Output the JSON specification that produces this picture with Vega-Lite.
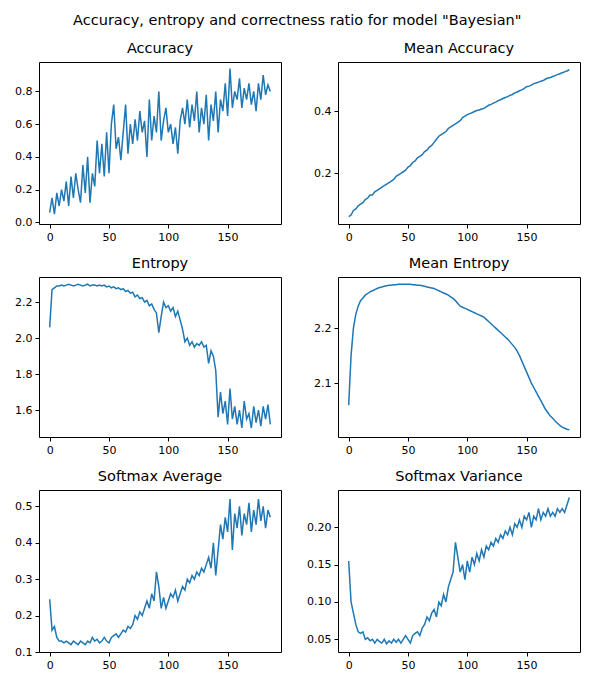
{
  "$schema": "https://vega.github.io/schema/vega-lite/v6.json",
  "padding": {"left": 14, "top": 12, "right": 12, "bottom": 4},
  "title": {"text": "Accuracy, entropy and correctness ratio for model \"Bayesian\"", "fontSize": 14.5, "fontWeight": "normal", "font": "DejaVu Sans", "anchor": "middle", "offset": 12},
  "config": {
    "font": "DejaVu Sans",
    "view": {"stroke": "black", "strokeWidth": 1},
    "axis": {"grid": false, "domainColor": "black", "tickColor": "black", "labelColor": "black", "labelFontSize": 11, "tickSize": 4, "labelPadding": 3, "domain": false},
    "title": {"fontSize": 14.5, "fontWeight": "normal", "offset": 6},
    "line": {"color": "#1f77b4", "strokeWidth": 1.5}
  },
  "columns": 2,
  "spacing": {"row": 12, "column": 24},
  "data": {"values": [
    {"x":0,"a":0.06,"ma":0.06,"e":2.06,"me":2.06,"s":0.245,"v":0.155},
    {"x":2,"a":0.15,"ma":0.065,"e":2.27,"me":2.15,"s":0.16,"v":0.10},
    {"x":4,"a":0.05,"ma":0.08,"e":2.28,"me":2.2,"s":0.17,"v":0.085},
    {"x":6,"a":0.18,"ma":0.085,"e":2.29,"me":2.225,"s":0.14,"v":0.07},
    {"x":8,"a":0.10,"ma":0.095,"e":2.29,"me":2.24,"s":0.13,"v":0.06},
    {"x":10,"a":0.20,"ma":0.10,"e":2.295,"me":2.25,"s":0.13,"v":0.058},
    {"x":12,"a":0.13,"ma":0.105,"e":2.29,"me":2.255,"s":0.125,"v":0.06},
    {"x":14,"a":0.25,"ma":0.115,"e":2.295,"me":2.26,"s":0.13,"v":0.05},
    {"x":16,"a":0.10,"ma":0.12,"e":2.3,"me":2.263,"s":0.125,"v":0.052},
    {"x":18,"a":0.28,"ma":0.13,"e":2.295,"me":2.266,"s":0.12,"v":0.048},
    {"x":20,"a":0.15,"ma":0.13,"e":2.29,"me":2.268,"s":0.13,"v":0.05},
    {"x":22,"a":0.30,"ma":0.14,"e":2.295,"me":2.27,"s":0.125,"v":0.045},
    {"x":24,"a":0.20,"ma":0.145,"e":2.3,"me":2.272,"s":0.12,"v":0.05},
    {"x":26,"a":0.12,"ma":0.15,"e":2.295,"me":2.274,"s":0.13,"v":0.047},
    {"x":28,"a":0.35,"ma":0.155,"e":2.29,"me":2.275,"s":0.125,"v":0.045},
    {"x":30,"a":0.18,"ma":0.16,"e":2.295,"me":2.276,"s":0.12,"v":0.05},
    {"x":32,"a":0.40,"ma":0.165,"e":2.3,"me":2.277,"s":0.13,"v":0.044},
    {"x":34,"a":0.12,"ma":0.17,"e":2.29,"me":2.278,"s":0.125,"v":0.048},
    {"x":36,"a":0.30,"ma":0.175,"e":2.295,"me":2.278,"s":0.14,"v":0.045},
    {"x":38,"a":0.22,"ma":0.18,"e":2.295,"me":2.279,"s":0.13,"v":0.05},
    {"x":40,"a":0.50,"ma":0.19,"e":2.29,"me":2.279,"s":0.135,"v":0.046},
    {"x":42,"a":0.30,"ma":0.195,"e":2.295,"me":2.28,"s":0.125,"v":0.05},
    {"x":44,"a":0.48,"ma":0.20,"e":2.29,"me":2.28,"s":0.13,"v":0.045},
    {"x":46,"a":0.28,"ma":0.205,"e":2.295,"me":2.28,"s":0.14,"v":0.05},
    {"x":48,"a":0.55,"ma":0.21,"e":2.285,"me":2.28,"s":0.13,"v":0.055},
    {"x":50,"a":0.30,"ma":0.22,"e":2.29,"me":2.28,"s":0.125,"v":0.05},
    {"x":52,"a":0.60,"ma":0.225,"e":2.28,"me":2.28,"s":0.14,"v":0.045},
    {"x":54,"a":0.72,"ma":0.235,"e":2.285,"me":2.279,"s":0.145,"v":0.055},
    {"x":56,"a":0.45,"ma":0.24,"e":2.275,"me":2.279,"s":0.15,"v":0.058},
    {"x":58,"a":0.52,"ma":0.25,"e":2.28,"me":2.278,"s":0.14,"v":0.06},
    {"x":60,"a":0.38,"ma":0.255,"e":2.27,"me":2.278,"s":0.15,"v":0.055},
    {"x":62,"a":0.55,"ma":0.26,"e":2.275,"me":2.277,"s":0.16,"v":0.065},
    {"x":64,"a":0.72,"ma":0.27,"e":2.26,"me":2.276,"s":0.155,"v":0.07},
    {"x":66,"a":0.42,"ma":0.275,"e":2.265,"me":2.275,"s":0.17,"v":0.08},
    {"x":68,"a":0.60,"ma":0.285,"e":2.25,"me":2.274,"s":0.165,"v":0.075},
    {"x":70,"a":0.48,"ma":0.29,"e":2.255,"me":2.273,"s":0.175,"v":0.085},
    {"x":72,"a":0.63,"ma":0.30,"e":2.23,"me":2.272,"s":0.20,"v":0.09},
    {"x":74,"a":0.50,"ma":0.31,"e":2.24,"me":2.27,"s":0.19,"v":0.08},
    {"x":76,"a":0.68,"ma":0.32,"e":2.22,"me":2.268,"s":0.21,"v":0.10},
    {"x":78,"a":0.55,"ma":0.325,"e":2.225,"me":2.266,"s":0.20,"v":0.095},
    {"x":80,"a":0.62,"ma":0.33,"e":2.2,"me":2.264,"s":0.22,"v":0.11},
    {"x":82,"a":0.40,"ma":0.335,"e":2.21,"me":2.262,"s":0.24,"v":0.10},
    {"x":84,"a":0.75,"ma":0.345,"e":2.18,"me":2.26,"s":0.22,"v":0.12},
    {"x":86,"a":0.50,"ma":0.35,"e":2.19,"me":2.257,"s":0.26,"v":0.13},
    {"x":88,"a":0.65,"ma":0.355,"e":2.16,"me":2.254,"s":0.24,"v":0.14},
    {"x":90,"a":0.55,"ma":0.36,"e":2.14,"me":2.25,"s":0.32,"v":0.18},
    {"x":92,"a":0.80,"ma":0.365,"e":2.03,"me":2.245,"s":0.28,"v":0.16},
    {"x":94,"a":0.50,"ma":0.37,"e":2.12,"me":2.24,"s":0.22,"v":0.14},
    {"x":96,"a":0.62,"ma":0.38,"e":2.2,"me":2.238,"s":0.25,"v":0.15},
    {"x":98,"a":0.70,"ma":0.385,"e":2.17,"me":2.236,"s":0.22,"v":0.13},
    {"x":100,"a":0.55,"ma":0.39,"e":2.18,"me":2.234,"s":0.24,"v":0.155},
    {"x":102,"a":0.60,"ma":0.393,"e":2.15,"me":2.232,"s":0.26,"v":0.14},
    {"x":104,"a":0.48,"ma":0.396,"e":2.17,"me":2.23,"s":0.25,"v":0.16},
    {"x":106,"a":0.58,"ma":0.40,"e":2.12,"me":2.228,"s":0.27,"v":0.15},
    {"x":108,"a":0.42,"ma":0.403,"e":2.15,"me":2.226,"s":0.24,"v":0.165},
    {"x":110,"a":0.62,"ma":0.405,"e":2.1,"me":2.224,"s":0.26,"v":0.155},
    {"x":112,"a":0.70,"ma":0.408,"e":2.05,"me":2.222,"s":0.28,"v":0.17},
    {"x":114,"a":0.60,"ma":0.41,"e":1.98,"me":2.22,"s":0.27,"v":0.16},
    {"x":116,"a":0.75,"ma":0.415,"e":2.0,"me":2.216,"s":0.30,"v":0.175},
    {"x":118,"a":0.58,"ma":0.42,"e":1.96,"me":2.212,"s":0.29,"v":0.17},
    {"x":120,"a":0.72,"ma":0.423,"e":1.98,"me":2.208,"s":0.31,"v":0.18},
    {"x":122,"a":0.62,"ma":0.427,"e":1.95,"me":2.204,"s":0.30,"v":0.175},
    {"x":124,"a":0.80,"ma":0.43,"e":1.97,"me":2.2,"s":0.32,"v":0.185},
    {"x":126,"a":0.55,"ma":0.435,"e":1.96,"me":2.196,"s":0.31,"v":0.18},
    {"x":128,"a":0.70,"ma":0.438,"e":1.98,"me":2.192,"s":0.33,"v":0.19},
    {"x":130,"a":0.60,"ma":0.442,"e":1.95,"me":2.188,"s":0.32,"v":0.185},
    {"x":132,"a":0.78,"ma":0.445,"e":1.96,"me":2.184,"s":0.34,"v":0.195},
    {"x":134,"a":0.50,"ma":0.448,"e":1.86,"me":2.18,"s":0.36,"v":0.19},
    {"x":136,"a":0.72,"ma":0.452,"e":1.93,"me":2.175,"s":0.33,"v":0.20},
    {"x":138,"a":0.62,"ma":0.455,"e":1.9,"me":2.17,"s":0.40,"v":0.19},
    {"x":140,"a":0.80,"ma":0.46,"e":1.82,"me":2.165,"s":0.31,"v":0.205},
    {"x":142,"a":0.55,"ma":0.463,"e":1.56,"me":2.158,"s":0.38,"v":0.20},
    {"x":144,"a":0.75,"ma":0.467,"e":1.7,"me":2.15,"s":0.45,"v":0.21},
    {"x":146,"a":0.68,"ma":0.47,"e":1.58,"me":2.14,"s":0.41,"v":0.20},
    {"x":148,"a":0.85,"ma":0.475,"e":1.65,"me":2.13,"s":0.47,"v":0.215},
    {"x":150,"a":0.65,"ma":0.48,"e":1.52,"me":2.12,"s":0.43,"v":0.21},
    {"x":152,"a":0.94,"ma":0.482,"e":1.72,"me":2.11,"s":0.52,"v":0.22},
    {"x":154,"a":0.70,"ma":0.485,"e":1.55,"me":2.1,"s":0.38,"v":0.20},
    {"x":156,"a":0.80,"ma":0.49,"e":1.62,"me":2.092,"s":0.48,"v":0.215},
    {"x":158,"a":0.75,"ma":0.492,"e":1.52,"me":2.084,"s":0.44,"v":0.21},
    {"x":160,"a":0.88,"ma":0.495,"e":1.6,"me":2.076,"s":0.50,"v":0.225},
    {"x":162,"a":0.70,"ma":0.498,"e":1.5,"me":2.068,"s":0.42,"v":0.21},
    {"x":164,"a":0.82,"ma":0.50,"e":1.65,"me":2.06,"s":0.48,"v":0.22},
    {"x":166,"a":0.75,"ma":0.505,"e":1.55,"me":2.052,"s":0.45,"v":0.215},
    {"x":168,"a":0.85,"ma":0.508,"e":1.58,"me":2.046,"s":0.51,"v":0.225},
    {"x":170,"a":0.72,"ma":0.51,"e":1.5,"me":2.04,"s":0.43,"v":0.215},
    {"x":172,"a":0.80,"ma":0.513,"e":1.62,"me":2.036,"s":0.49,"v":0.22},
    {"x":174,"a":0.68,"ma":0.516,"e":1.53,"me":2.031,"s":0.45,"v":0.215},
    {"x":176,"a":0.85,"ma":0.519,"e":1.6,"me":2.027,"s":0.52,"v":0.225},
    {"x":178,"a":0.75,"ma":0.522,"e":1.51,"me":2.023,"s":0.46,"v":0.22},
    {"x":180,"a":0.90,"ma":0.525,"e":1.62,"me":2.02,"s":0.50,"v":0.225},
    {"x":182,"a":0.78,"ma":0.528,"e":1.55,"me":2.018,"s":0.44,"v":0.22},
    {"x":184,"a":0.84,"ma":0.531,"e":1.63,"me":2.016,"s":0.49,"v":0.23},
    {"x":186,"a":0.80,"ma":0.535,"e":1.52,"me":2.015,"s":0.47,"v":0.24}
  ]},
  "concat": [
    {
      "title": "Accuracy", "width": 242, "height": 162,
      "mark": "line",
      "encoding": {
        "x": {"field": "x", "type": "quantitative", "title": null, "scale": {"domain": [-9, 195], "nice": false}, "axis": {"values": [0, 50, 100, 150]}},
        "y": {"field": "a", "type": "quantitative", "title": null, "scale": {"domain": [-0.01, 0.98], "nice": false}, "axis": {"values": [0, 0.2, 0.4, 0.6, 0.8], "format": ".1f"}}
      }
    },
    {
      "title": "Mean Accuracy", "width": 242, "height": 162,
      "mark": "line",
      "encoding": {
        "x": {"field": "x", "type": "quantitative", "title": null, "scale": {"domain": [-9, 195], "nice": false}, "axis": {"values": [0, 50, 100, 150]}},
        "y": {"field": "ma", "type": "quantitative", "title": null, "scale": {"domain": [0.036, 0.56], "nice": false}, "axis": {"values": [0.2, 0.4], "format": ".1f"}}
      }
    },
    {
      "title": "Entropy", "width": 242, "height": 160,
      "mark": "line",
      "encoding": {
        "x": {"field": "x", "type": "quantitative", "title": null, "scale": {"domain": [-9, 195], "nice": false}, "axis": {"values": [0, 50, 100, 150]}},
        "y": {"field": "e", "type": "quantitative", "title": null, "scale": {"domain": [1.45, 2.34], "nice": false}, "axis": {"values": [1.6, 1.8, 2.0, 2.2], "format": ".1f"}}
      }
    },
    {
      "title": "Mean Entropy", "width": 242, "height": 160,
      "mark": "line",
      "encoding": {
        "x": {"field": "x", "type": "quantitative", "title": null, "scale": {"domain": [-9, 195], "nice": false}, "axis": {"values": [0, 50, 100, 150]}},
        "y": {"field": "me", "type": "quantitative", "title": null, "scale": {"domain": [2.002, 2.293], "nice": false}, "axis": {"values": [2.1, 2.2], "format": ".1f"}}
      }
    },
    {
      "title": "Softmax Average", "width": 242, "height": 162,
      "mark": "line",
      "encoding": {
        "x": {"field": "x", "type": "quantitative", "title": null, "scale": {"domain": [-9, 195], "nice": false}, "axis": {"values": [0, 50, 100, 150]}},
        "y": {"field": "s", "type": "quantitative", "title": null, "scale": {"domain": [0.1, 0.545], "nice": false}, "axis": {"values": [0.1, 0.2, 0.3, 0.4, 0.5], "format": ".1f"}}
      }
    },
    {
      "title": "Softmax Variance", "width": 242, "height": 162,
      "mark": "line",
      "encoding": {
        "x": {"field": "x", "type": "quantitative", "title": null, "scale": {"domain": [-9, 195], "nice": false}, "axis": {"values": [0, 50, 100, 150]}},
        "y": {"field": "v", "type": "quantitative", "title": null, "scale": {"domain": [0.033, 0.25], "nice": false}, "axis": {"values": [0.05, 0.1, 0.15, 0.2], "format": ".2f"}}
      }
    }
  ]
}
